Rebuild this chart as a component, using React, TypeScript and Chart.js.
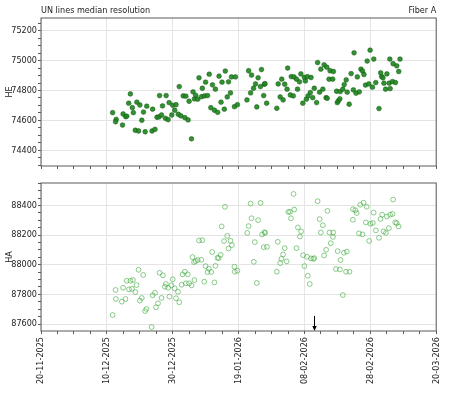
import React, { useEffect, useRef } from "react";
import { Chart, registerables } from "chart.js";

Chart.register(...registerables);

// ---- axis / labels ----
const START_DATE = Date.UTC(2025, 10, 20); // 20-11-2025
const DAY_MS = 86400000;
const X_SPAN_DAYS = 120;
const X_MINOR_STEP_DAYS = 5;
const X_MAJOR_STEP_DAYS = 20;

const TITLE_LEFT = "UN lines median resolution";
const TITLE_RIGHT = "Fiber A";
const HE_LABEL = "HE";
const HA_LABEL = "HA";

const HE_MIN = 74295;
const HE_MAX = 75285;
const HA_MIN = 87553;
const HA_MAX = 88552;
const Y_MINOR_STEP = 50;
const Y_MAJOR_STEP = 200;

// arrow marker (days after start, HA value of the arrow tail)
const ARROW_DAY = 82.88;
const ARROW_TOP_HA = 87655;

// ---- HE series (days after 20-11-2025, value) ----
const heDays = [
  21.75, 22.83, 22.65, 24.75, 24.93, 25.73, 26.03, 26.63, 27.14, 27.74,
  28.04, 28.64, 29.11, 29.62, 30.01, 30.61, 31.12, 31.63, 32.11, 33.72,
  33.9, 34.62, 35.22, 35.82, 36.0, 36.6, 36.89, 37.79, 38.0, 38.6,
  38.9, 39.71, 40.01, 40.6, 40.99, 41.68, 41.98, 42.49, 43.18, 43.69,
  43.99, 44.67, 44.97, 45.69, 46.17, 46.59, 46.98, 47.58, 47.97, 48.77,
  48.98, 49.67, 49.97, 50.57, 51.08, 51.56, 52.06, 52.66, 52.96, 53.65,
  54.07, 54.67, 54.97, 55.66, 55.96, 56.55, 56.94, 57.54, 57.84, 58.74,
  59.04, 59.64, 62.54, 63.05, 63.65, 63.94, 64.54, 65.14, 65.53, 65.92,
  66.64, 66.94, 67.62, 67.83, 68.01, 68.52, 71.6, 72.02, 72.62, 73.1,
  73.52, 74.0, 74.72, 74.9, 75.7, 76.0, 76.6, 76.81, 77.59, 77.89,
  78.49, 78.91, 79.5, 79.98, 80.28, 80.58, 80.88, 81.09, 81.78, 81.99,
  82.5, 82.98, 83.69, 83.99, 84.59, 84.98, 85.58, 85.97, 86.56, 86.77,
  86.9, 87.46, 87.76, 88.57, 88.78, 89.77, 89.97, 90.27, 90.75, 90.87,
  91.65, 92.07, 92.67, 92.97, 93.57, 94.17, 94.85, 95.06, 95.66, 96.05,
  96.65, 97.16, 97.64, 98.06, 98.53, 99.04, 99.55, 99.94, 100.63, 101.05,
  101.65, 102.63, 103.14, 103.44, 103.83, 104.13, 104.64, 105.03, 105.72, 105.92,
  106.02, 106.73, 106.91, 107.63, 108.02, 108.62, 109.01,
];
const heValues = [
  74652, 74607, 74591, 74569, 74643, 74625, 74628, 74715, 74777, 74685,
  74652, 74534, 74722, 74529, 74703, 74601, 74656, 74524, 74695, 74529,
  74675, 74540, 74621, 74623, 74766, 74636, 74697, 74614, 74766, 74605,
  74719, 74636, 74701, 74668, 74705, 74641, 74826, 74630, 74764, 74618,
  74762, 74603, 74728, 74477, 74791, 74744, 74768, 74742, 74885, 74759,
  74815, 74764, 74856, 74766, 74909, 74685, 74838, 74668, 74809, 74654,
  74896, 74722, 74856, 74675, 74930, 74757, 74858, 74784, 74891, 74692,
  74891, 74705, 74737, 74932, 74784, 74903, 74815, 74844, 74690, 74885,
  74826, 74940, 74766, 74842, 74846, 74715, 74681, 74844, 74757, 74876,
  74737, 74842, 74809, 74950, 74770, 74893, 74764, 74891, 74876, 74809,
  74858, 74911, 74715, 74887, 74864, 74742, 74893, 74764, 74786, 74887,
  74752, 74815, 74719, 74987, 74789, 74943, 74809, 74972, 74752, 74956,
  74748, 74876, 74932, 74876, 74927, 74795, 74719, 74730, 74744, 74793,
  74809, 74840, 74871, 74789, 74708, 74913, 74804, 75052, 74782, 74891,
  74791, 74943, 74930, 74907, 74836, 74997, 74844, 75070, 74822, 75010,
  74853, 74679, 74918, 74893, 74885, 74849, 74809, 74911, 74849, 75010,
  74813, 74860, 74979, 74853, 74965, 74927, 75010,
];

// ---- HA series (days after 20-11-2025, value) ----
const haDays = [
  21.75, 22.65, 22.74, 24.54, 24.93, 25.64, 26.03, 26.72, 27.14, 27.62,
  27.92, 28.64, 29.02, 29.62, 30.01, 30.61, 31.03, 31.63, 32.02, 33.6,
  33.9, 34.62, 34.92, 35.52, 36.0, 36.6, 37.01, 37.61, 37.91, 38.6,
  38.99, 39.59, 40.01, 40.6, 40.99, 41.59, 41.98, 42.7, 43.0, 43.69,
  43.99, 44.58, 44.97, 45.69, 45.99, 46.47, 46.59, 46.98, 47.58, 47.97,
  48.68, 48.98, 49.58, 49.97, 50.57, 50.96, 51.68, 51.98, 52.66, 52.96,
  53.56, 53.95, 54.55, 54.85, 55.57, 55.86, 56.55, 56.94, 57.54, 57.96,
  58.74, 58.86, 59.63, 62.63, 63.05, 63.64, 63.94, 64.63, 64.93, 65.53,
  65.92, 66.64, 67.12, 67.62, 67.92, 68.01, 68.61, 71.6, 71.9, 72.62,
  73.01, 73.52, 74.0, 74.6, 75.1, 75.61, 75.91, 76.69, 76.9, 77.59,
  78.01, 78.61, 78.99, 79.59, 79.98, 80.79, 81.0, 81.6, 81.99, 82.68,
  82.98, 83.99, 84.59, 84.98, 85.58, 85.97, 86.57, 86.98, 87.58, 87.97,
  88.66, 88.72, 89.56, 90.07, 90.75, 90.96, 91.65, 91.95, 92.62, 92.85,
  93.66, 94.7, 94.75, 95.45, 95.84, 96.56, 96.95, 97.61, 97.94, 98.65,
  98.89, 99.64, 100.0, 100.75, 101.0, 101.68, 102.63, 103.08, 103.59, 104.04,
  104.73, 105.03, 105.63, 106.01, 106.73, 106.91, 107.57, 108.02, 108.56,
];
const haValues = [
  87661, 87830, 87769, 87751, 87845, 87769, 87892, 87834, 87892, 87838,
  87897, 87816, 87863, 87966, 87758, 87776, 87931, 87688, 87702, 87580,
  87794, 87811, 87713, 87740, 87946, 87776, 87929, 87852, 87870, 87845,
  87785, 87861, 87902, 87841, 87774, 87818, 87747, 87865, 87935, 87953,
  87875, 87935, 87875, 87861, 88052, 88018, 87897, 88025, 88032, 88164,
  88034, 88166, 87886, 87991, 87951, 87973, 87951, 88086, 87881, 87993,
  88047, 88045, 88067, 88259, 88160, 88391, 88195, 88110, 88162, 88133,
  87987, 87953, 87960, 88215, 88261, 88413, 88314, 88020, 88153, 87877,
  88301, 88418, 88205, 88119, 88220, 88215, 88121, 87953, 88155, 88011,
  88040, 88070, 88112, 88023, 88357, 88357, 88314, 88478, 88373, 88112,
  88252, 88191, 88225, 88065, 87991, 88054, 87926, 87870, 88043, 88040,
  88045, 88429, 88308, 88218, 88267, 88063, 88101, 88364, 88218, 88146,
  88188, 88218, 87971, 88092, 87969, 88032, 87796, 88081, 87953, 88089,
  87953, 88304, 88375, 88368, 88349, 88212, 88405, 88205, 88419, 88286,
  88392, 88161, 88277, 88282, 88352, 88232, 88182, 88309, 88338, 88225,
  88215, 88326, 88247, 88338, 88343, 88440, 88286, 88281, 88259,
];

// ---- styling ----
const FONT_FAMILY = "'DejaVu Sans Condensed', 'DejaVu Sans', sans-serif";
const FONT_SIZE = 9;
const TEXT_COLOR = "#222";
const FRAME_COLOR = "#5a5a5a";
const GRID_COLOR = "#e4e4e4";
const CLEAR = "rgba(0,0,0,0)";

const pad2 = (n: number) => (n < 10 ? "0" + n : String(n));
const fmtDate = (ms: number) => {
  const d = new Date(ms);
  return `${pad2(d.getUTCDate())}-${pad2(d.getUTCMonth() + 1)}-${d.getUTCFullYear()}`;
};
const dayOf = (ms: number) => Math.round((ms - START_DATE) / DAY_MS);
const isMajorX = (ms: number) => dayOf(ms) % X_MAJOR_STEP_DAYS === 0;
const isMajorY = (v: number) => Math.round(v) % Y_MAJOR_STEP === 0;

const font = { family: FONT_FAMILY, size: FONT_SIZE };

function makeXScale(showLabels: boolean, height: number) {
  return {
    type: "linear",
    min: START_DATE,
    max: START_DATE + X_SPAN_DAYS * DAY_MS,
    afterBuildTicks: (s: any) => {
      const t: any[] = [];
      for (let d = 0; d <= X_SPAN_DAYS; d += X_MINOR_STEP_DAYS) t.push({ value: START_DATE + d * DAY_MS });
      s.ticks = t;
    },
    afterFit: (s: any) => {
      s.height = height;
    },
    border: { display: false },
    grid: {
      color: (c: any) => (c.tick && isMajorX(c.tick.value) ? GRID_COLOR : CLEAR),
      lineWidth: 1,
      tickColor: FRAME_COLOR,
      tickLength: 3,
      drawTicks: true,
    },
    ticks: {
      autoSkip: false,
      minRotation: 90,
      maxRotation: 90,
      padding: 3,
      font,
      color: TEXT_COLOR,
      callback: (v: any) => (showLabels && isMajorX(Number(v)) ? fmtDate(Number(v)) : ""),
    },
  };
}

function makeYScale(min: number, max: number, label: string) {
  return {
    type: "linear",
    min,
    max,
    afterBuildTicks: (s: any) => {
      const t: any[] = [];
      for (let v = Math.ceil(min / Y_MINOR_STEP) * Y_MINOR_STEP; v <= max; v += Y_MINOR_STEP) t.push({ value: v });
      s.ticks = t;
    },
    afterFit: (s: any) => {
      s.width = 41;
    },
    border: { display: false },
    grid: {
      color: (c: any) => (c.tick && isMajorY(c.tick.value) ? GRID_COLOR : CLEAR),
      lineWidth: 1,
      tickColor: FRAME_COLOR,
      tickLength: 3,
      drawTicks: true,
    },
    ticks: {
      autoSkip: false,
      padding: 1,
      font,
      color: TEXT_COLOR,
      callback: (v: any) => (isMajorY(Number(v)) ? String(Math.round(Number(v))) : ""),
    },
    title: { display: true, text: label, font, color: TEXT_COLOR, padding: { top: 4, bottom: 0 } },
  };
}

const framePlugin = {
  id: "frame",
  afterDraw(chart: any) {
    const { left, top, right, bottom } = chart.chartArea;
    const ctx = chart.ctx;
    ctx.save();
    ctx.strokeStyle = FRAME_COLOR;
    ctx.lineWidth = 1;
    ctx.strokeRect(left, top, right - left, bottom - top);
    ctx.restore();
  },
};

const headerPlugin = {
  id: "header",
  afterDraw(chart: any) {
    const { left, right } = chart.chartArea;
    const ctx = chart.ctx;
    ctx.save();
    ctx.fillStyle = TEXT_COLOR;
    ctx.font = `${FONT_SIZE}px ${FONT_FAMILY}`;
    ctx.textBaseline = "alphabetic";
    ctx.textAlign = "left";
    ctx.fillText(TITLE_LEFT, left, 12.5);
    ctx.textAlign = "right";
    ctx.fillText(TITLE_RIGHT, right, 12.5);
    ctx.restore();
  },
};

const arrowPlugin = {
  id: "arrow",
  afterDatasetsDraw(chart: any) {
    const xs = chart.scales.x;
    const ys = chart.scales.y;
    const x = Math.round(xs.getPixelForValue(START_DATE + ARROW_DAY * DAY_MS)) + 0.5;
    const y0 = ys.getPixelForValue(ARROW_TOP_HA);
    const y1 = chart.chartArea.bottom;
    const ctx = chart.ctx;
    ctx.save();
    ctx.strokeStyle = "#000";
    ctx.fillStyle = "#000";
    ctx.lineWidth = 1;
    ctx.beginPath();
    ctx.moveTo(x, y0);
    ctx.lineTo(x, y1 - 4);
    ctx.stroke();
    ctx.beginPath();
    ctx.moveTo(x - 2.2, y1 - 5);
    ctx.lineTo(x + 2.2, y1 - 5);
    ctx.lineTo(x, y1);
    ctx.closePath();
    ctx.fill();
    ctx.restore();
  },
};

const toPoints = (days: number[], vals: number[]) =>
  days.map((d, i) => ({ x: START_DATE + d * DAY_MS, y: vals[i] }));

export default function App() {
  const topRef = useRef<HTMLCanvasElement | null>(null);
  const botRef = useRef<HTMLCanvasElement | null>(null);

  useEffect(() => {
    if (!topRef.current || !botRef.current) return;
    const top = new Chart(topRef.current, {
      type: "scatter",
      data: {
        datasets: [
          {
            data: toPoints(heDays, heValues),
            pointRadius: 2.4,
            pointBackgroundColor: "rgba(34,136,34,0.92)",
            pointBorderColor: "rgba(10,80,10,0.9)",
            pointBorderWidth: 0.5,
          },
        ],
      },
      options: {
        animation: false,
        responsive: false,
        layout: { padding: { top: 18, right: 8, left: 0, bottom: 0 } },
        plugins: { legend: { display: false }, tooltip: { enabled: false } },
        scales: { x: makeXScale(false, 9), y: makeYScale(HE_MIN, HE_MAX, HE_LABEL) } as any,
      },
      plugins: [framePlugin, headerPlugin],
    } as any);
    const bot = new Chart(botRef.current, {
      type: "scatter",
      data: {
        datasets: [
          {
            data: toPoints(haDays, haValues),
            pointRadius: 2.4,
            pointBackgroundColor: CLEAR,
            pointBorderColor: "rgba(60,170,60,0.75)",
            pointBorderWidth: 0.8,
          },
        ],
      },
      options: {
        animation: false,
        responsive: false,
        layout: { padding: { top: 8, right: 8, left: 0, bottom: 0 } },
        plugins: { legend: { display: false }, tooltip: { enabled: false } },
        scales: { x: makeXScale(true, 69), y: makeYScale(HA_MIN, HA_MAX, HA_LABEL) } as any,
      },
      plugins: [framePlugin, arrowPlugin],
    } as any);
    return () => {
      top.destroy();
      bot.destroy();
    };
  }, []);

  return (
    <div style={{ position: "fixed", left: 0, top: 0, width: 450, height: 400, background: "#fff" }}>
      <canvas ref={topRef} width={450} height={175} style={{ position: "absolute", left: 0, top: 0, width: 450, height: 175 }} />
      <canvas ref={botRef} width={450} height={225} style={{ position: "absolute", left: 0, top: 175, width: 450, height: 225 }} />
    </div>
  );
}
